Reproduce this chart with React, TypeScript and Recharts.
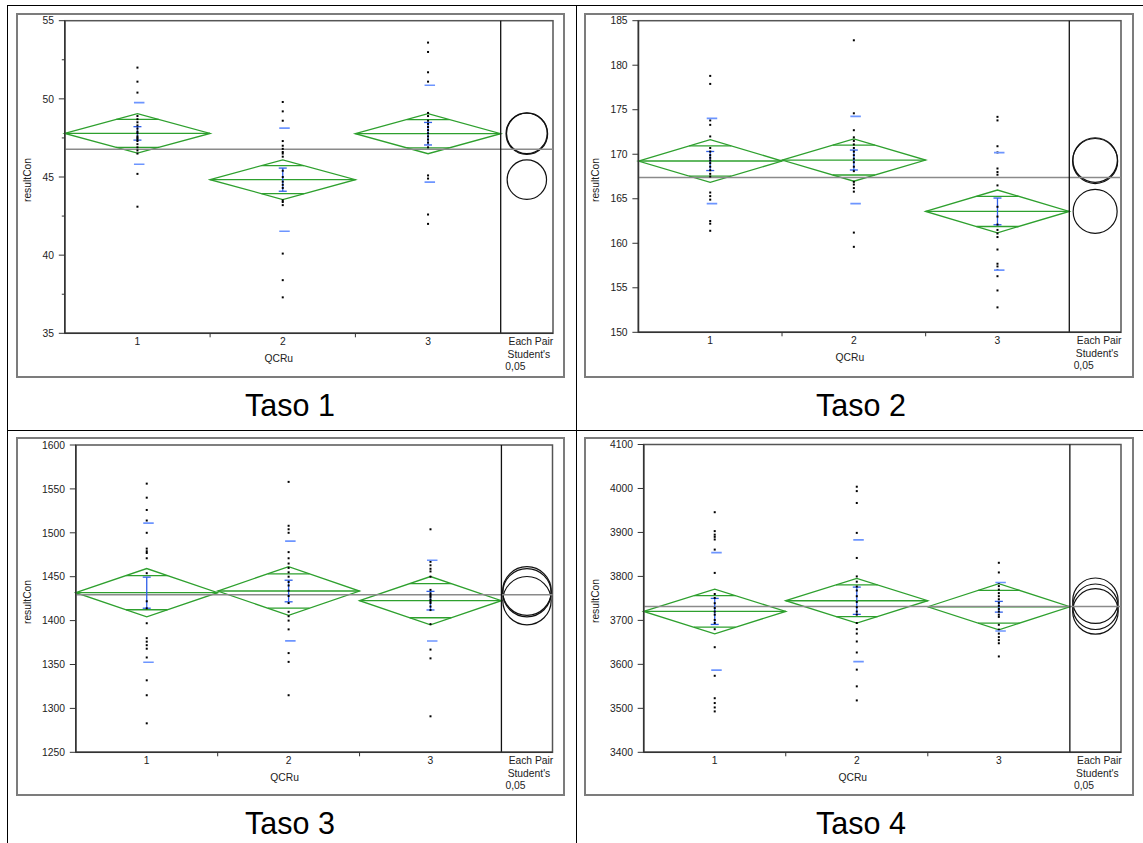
import React from 'react';
import { ComposedChart, Scatter, XAxis, YAxis, ReferenceLine, ReferenceArea, ErrorBar } from 'recharts';

// ---------- shared labels ----------
const groups = [1, 2, 3];
const xTickLabels = ['1', '2', '3'];
const xAxisTitle = 'QCRu';
const yAxisTitle = 'resultCon';
const pairLabels = ['Each Pair', "Student's", '0,05'];
const titles = ['Taso 1', 'Taso 2', 'Taso 3', 'Taso 4'];

// ---------- Taso 1 ----------
const taso1G1 = [52.0, 51.1, 50.4, 48.9, 48.7, 48.5, 48.3, 48.1, 47.9, 47.8, 47.6, 47.5, 47.4, 47.3, 47.1, 46.9, 46.7, 46.5, 45.2, 43.1];
const taso1G2 = [49.8, 49.2, 48.6, 47.3, 47.0, 46.8, 46.6, 46.5, 46.3, 45.4, 45.0, 44.7, 44.5, 44.3, 43.5, 43.4, 43.2, 40.1, 38.4, 37.3];
const taso1G3 = [53.6, 53.0, 51.7, 51.1, 49.1, 48.9, 48.6, 48.4, 48.2, 48.0, 47.8, 47.6, 47.4, 47.2, 46.9, 45.1, 44.9, 42.6, 42.0];
const taso1Means = [47.79, 44.83, 47.77];
const taso1Ci = [1.26, 1.27, 1.28];
const taso1Sd = [1.97, 3.3, 3.1];
const taso1Se = [0.43, 0.74, 0.72];
const taso1CircleR = [1.3, 1.26, 1.33];
const taso1Grand = 46.77;
const taso1YDomain = [35, 55];
const taso1YMajor = [35, 40, 45, 50, 55];
const taso1YMinor = [37.5, 42.5, 47.5, 52.5];

// ---------- Taso 2 ----------
const taso2G1 = [178.8, 177.9, 173.8, 173.3, 172.0, 170.7, 170.3, 169.9, 169.6, 169.3, 169.0, 168.6, 168.2, 167.8, 167.5, 165.7, 165.3, 164.9, 162.5, 162.2, 161.4];
const taso2G2 = [182.8, 174.6, 172.7, 171.9, 171.5, 171.1, 170.7, 170.3, 169.9, 169.5, 169.1, 168.6, 168.1, 166.9, 166.6, 166.2, 165.8, 161.2, 159.6];
const taso2G3 = [174.2, 173.8, 170.9, 170.2, 168.4, 168.0, 167.7, 166.5, 164.1, 163.0, 162.1, 161.5, 161.1, 160.7, 159.3, 157.7, 157.4, 157.0, 156.3, 154.7, 152.8];
const taso2Means = [169.24, 169.35, 163.58];
const taso2Ci = [2.4, 2.38, 2.4];
const taso2Sd = [4.79, 4.9, 6.6];
const taso2Se = [1.07, 1.12, 1.5];
const taso2CircleR = [2.53, 2.5, 2.47];
const taso2Grand = 167.4;
const taso2YDomain = [150, 185];
const taso2YMajor = [150, 155, 160, 165, 170, 175, 180, 185];
const taso2YMinor: number[] = [];

// ---------- Taso 3 ----------
const taso3G1 = [1556, 1540, 1526, 1514, 1500, 1482, 1479, 1477, 1471, 1454, 1422, 1414, 1397, 1380, 1376, 1372, 1368, 1358, 1332, 1315, 1283];
const taso3G2 = [1558, 1508, 1504, 1500, 1478, 1471, 1465, 1460, 1455, 1450, 1444, 1440, 1434, 1428, 1420, 1410, 1405, 1400, 1390, 1363, 1353, 1315];
const taso3G3 = [1504, 1467, 1463, 1459, 1456, 1450, 1435, 1431, 1429, 1427, 1424, 1422, 1420, 1416, 1412, 1396, 1367, 1357, 1291];
const taso3Means = [1431.8, 1433.7, 1422.7];
const taso3Ci = [27.5, 27.7, 27.5];
const taso3Sd = [79.2, 56.8, 46];
const taso3Se = [17.7, 12.3, 10.6];
const taso3CircleR = [27.5, 27.7, 27.5];
const taso3Grand = 1429.5;
const taso3YDomain = [1250, 1600];
const taso3YMajor = [1250, 1300, 1350, 1400, 1450, 1500, 1550, 1600];
const taso3YMinor: number[] = [];

// ---------- Taso 4 ----------
const taso4G1 = [3946, 3903, 3895, 3890, 3884, 3861, 3808, 3760, 3751, 3739, 3728, 3720, 3713, 3701, 3694, 3680, 3639, 3574, 3523, 3512, 3502, 3493];
const taso4G2 = [4004, 3994, 3967, 3899, 3842, 3800, 3788, 3777, 3768, 3755, 3742, 3730, 3720, 3713, 3694, 3680, 3670, 3652, 3627, 3588, 3550, 3518];
const taso4G3 = [3831, 3809, 3785, 3778, 3770, 3762, 3755, 3748, 3740, 3733, 3726, 3720, 3713, 3708, 3690, 3679, 3670, 3662, 3655, 3648, 3618];
const taso4Means = [3720.4, 3744.7, 3731];
const taso4Ci = [50.8, 50.9, 52.4];
const taso4Sd = [133.6, 138.5, 55];
const taso4Se = [29.6, 31, 12.2];
const taso4CircleR = [51.7, 51.7, 51.7];
const taso4Grand = 3731.7;
const taso4YDomain = [3400, 4100];
const taso4YMajor = [3400, 3500, 3600, 3700, 3800, 3900, 4000, 4100];
const taso4YMinor: number[] = [];

const X_DOMAIN = [0.5, 3.86];
const PAIR_X = 3.68;
const DIVIDER_X = 3.5;

const panels = [
  { groups: [taso1G1, taso1G2, taso1G3], means: taso1Means, ci: taso1Ci, sd: taso1Sd, se: taso1Se, circleR: taso1CircleR, grand: taso1Grand, yDomain: taso1YDomain, yMajor: taso1YMajor, yMinor: taso1YMinor },
  { groups: [taso2G1, taso2G2, taso2G3], means: taso2Means, ci: taso2Ci, sd: taso2Sd, se: taso2Se, circleR: taso2CircleR, grand: taso2Grand, yDomain: taso2YDomain, yMajor: taso2YMajor, yMinor: taso2YMinor },
  { groups: [taso3G1, taso3G2, taso3G3], means: taso3Means, ci: taso3Ci, sd: taso3Sd, se: taso3Se, circleR: taso3CircleR, grand: taso3Grand, yDomain: taso3YDomain, yMajor: taso3YMajor, yMinor: taso3YMinor },
  { groups: [taso4G1, taso4G2, taso4G3], means: taso4Means, ci: taso4Ci, sd: taso4Sd, se: taso4Se, circleR: taso4CircleR, grand: taso4Grand, yDomain: taso4YDomain, yMajor: taso4YMajor, yMinor: taso4YMinor },
];

// layout (pixels, page coordinates)
const layouts = [
  { frame: { l: 17, t: 14, r: 566, b: 379 }, plot: { l: 64.8, t: 20.7, r: 553, b: 333.3 }, title: { x: 290, y: 416 } },
  { frame: { l: 585, t: 14, r: 1135, b: 379 }, plot: { l: 638.4, t: 20.7, r: 1121, b: 332.3 }, title: { x: 861, y: 416 } },
  { frame: { l: 17, t: 438, r: 566, b: 797 }, plot: { l: 75.8, t: 445, r: 552.5, b: 752.3 }, title: { x: 290, y: 834 } },
  { frame: { l: 585, t: 438, r: 1135, b: 797 }, plot: { l: 643.7, t: 444.5, r: 1121, b: 752.3 }, title: { x: 861, y: 834 } },
];

const FONT = '"Liberation Sans", Arial, sans-serif';
const GREEN = '#2ea02e';
const BLUE_SD = '#6d95ff';
const BLUE_SE = '#2f5fe8';
const TICK_FS = 10.3;

const Dot = (props: any) => {
  const { cx, cy } = props;
  if (cx == null || cy == null) return <g />;
  return <rect x={cx - 1} y={cy - 1} width={2} height={2} fill="#000" />;
};

const SdDash = (props: any) => {
  const { cx, cy } = props;
  if (cx == null || cy == null) return <g />;
  return <line x1={cx - 3.5} x2={cx + 7} y1={cy} y2={cy} stroke={BLUE_SD} strokeWidth={1.6} />;
};

const Empty = () => <g />;

const DiamondShape = (props: any) => {
  const { x, y, width, height } = props;
  if (x == null) return <g />;
  const cx = x + width / 2;
  const cy = y + height / 2;
  const hh = height / 2;
  const hw = width / 2;
  const k = 1 / Math.SQRT2;
  const ow = hw * (1 - k);
  const pts = `${x},${cy} ${cx},${y} ${x + width},${cy} ${cx},${y + height}`;
  return (
    <g>
      <polygon points={pts} fill="none" stroke={GREEN} strokeWidth={1.3} />
      <line x1={x} x2={x + width} y1={cy} y2={cy} stroke={GREEN} strokeWidth={1.3} />
      <line x1={cx - ow} x2={cx + ow} y1={cy - hh * k} y2={cy - hh * k} stroke={GREEN} strokeWidth={1.3} />
      <line x1={cx - ow} x2={cx + ow} y1={cy + hh * k} y2={cy + hh * k} stroke={GREEN} strokeWidth={1.3} />
    </g>
  );
};

const CircleShape = (props: any) => {
  const { x, y, width, height } = props;
  if (x == null) return <g />;
  return <circle cx={x + width / 2} cy={y + height / 2} r={height / 2} fill="none" stroke="#111" strokeWidth={1.2} />;
};

const FrameShape = (props: any) => {
  const { x, y, width, height } = props;
  if (x == null) return <g />;
  return <rect x={x} y={y} width={width} height={height} fill="none" stroke="#555" strokeWidth={1.5} />;
};

const renderXTick = (props: any) => {
  const { x, y, payload } = props;
  const v = payload.value;
  if (v === 1.5 || v === 2.5) {
    return <line x1={x} x2={x} y1={y} y2={y + 4} stroke="#333" strokeWidth={1} />;
  }
  if (v === PAIR_X) {
    return (
      <g fontFamily={FONT} fontSize={TICK_FS} fill="#222">
        <text x={x + 4} y={y + 12} textAnchor="middle">{pairLabels[0]}</text>
        <text x={x + 2} y={y + 24.7} textAnchor="middle">{pairLabels[1]}</text>
        <text x={x - 21.5} y={y + 37} textAnchor="start">{pairLabels[2]}</text>
      </g>
    );
  }
  const idx = groups.indexOf(v);
  if (idx < 0) return <g />;
  return (
    <g fontFamily={FONT} fontSize={TICK_FS} fill="#222">
      <text x={x} y={y + 11.4} textAnchor="middle">{xTickLabels[idx]}</text>
      {v === 2 && <text x={x - 4} y={y + 28.4} textAnchor="middle">{xAxisTitle}</text>}
    </g>
  );
};

const makeYTick = (majors: number[]) => (props: any) => {
  const { x, y, payload } = props;
  const v = payload.value;
  const major = majors.includes(v);
  return (
    <g>
      <line x1={x - (major ? 6 : 3)} x2={x} y1={y} y2={y} stroke="#333" strokeWidth={1} />
      {major && (
        <text x={x - 10.8} y={y + 3.7} textAnchor="end" fontFamily={FONT} fontSize={TICK_FS} fill="#222">
          {v}
        </text>
      )}
    </g>
  );
};

function Panel({ index }: { index: number }) {
  const p = panels[index];
  const { frame, plot } = layouts[index];
  const W = frame.r - frame.l;
  const H = frame.b - frame.t;
  const yAxisW = 40;
  const xAxisH = 30;
  const margin = {
    left: plot.l - frame.l - yAxisW,
    top: plot.t - frame.t,
    right: frame.r - plot.r,
    bottom: frame.b - plot.b - xAxisH,
  };
  const points = p.groups.flatMap((vals, i) => vals.map((v) => ({ x: groups[i], y: v })));
  const seData = groups.map((g, i) => ({ x: g, y: p.means[i], se: p.se[i] }));
  const sdData = groups.flatMap((g, i) => [
    { x: g, y: p.means[i] + p.sd[i] },
    { x: g, y: p.means[i] - p.sd[i] },
  ]);
  const yTicks = [...p.yMajor, ...p.yMinor].sort((a, b) => a - b);
  const plotH = plot.b - plot.t;
  const labelX = 10.7;
  const labelY = margin.top + plotH / 2 + 3;

  return (
    <div style={{ position: 'absolute', left: frame.l, top: frame.t, width: W, height: H }}>
      <ComposedChart width={W} height={H} margin={margin}>
        <XAxis
          type="number"
          dataKey="x"
          domain={X_DOMAIN}
          ticks={[1, 1.5, 2, 2.5, 3, PAIR_X]}
          interval={0}
          allowDataOverflow
          tickSize={0}
          tickMargin={0}
          tickLine={false}
          tick={renderXTick}
          height={xAxisH}
          axisLine={{ stroke: '#333', strokeWidth: 1.5 }}
        />
        <YAxis
          type="number"
          dataKey="y"
          domain={p.yDomain}
          ticks={yTicks}
          interval={0}
          allowDataOverflow
          width={yAxisW}
          tickSize={0}
          tickMargin={0}
          tickLine={false}
          tick={makeYTick(p.yMajor)}
          axisLine={{ stroke: '#333', strokeWidth: 1.5 }}
        />
        <ReferenceArea x1={X_DOMAIN[0]} x2={X_DOMAIN[1]} y1={p.yDomain[0]} y2={p.yDomain[1]} shape={FrameShape} ifOverflow="visible" />
        <ReferenceLine y={p.grand} stroke="#8a8a8a" strokeWidth={1.5} />
        {groups.map((g, i) => (
          <ReferenceArea
            key={'d' + i}
            x1={g - 0.5}
            x2={g + 0.5}
            y1={p.means[i] - p.ci[i]}
            y2={p.means[i] + p.ci[i]}
            shape={DiamondShape}
            ifOverflow="visible"
          />
        ))}
        <ReferenceLine x={DIVIDER_X} stroke="#111" strokeWidth={1.3} />
        {groups.map((g, i) => (
          <ReferenceArea
            key={'c' + i}
            x1={PAIR_X - 0.12}
            x2={PAIR_X + 0.12}
            y1={p.means[i] - p.circleR[i]}
            y2={p.means[i] + p.circleR[i]}
            shape={CircleShape}
            ifOverflow="visible"
          />
        ))}
        <Scatter data={points} shape={Dot} isAnimationActive={false} />
        <Scatter data={sdData} shape={SdDash} isAnimationActive={false} />
        <Scatter data={seData} shape={Empty} isAnimationActive={false}>
          <ErrorBar dataKey="se" direction="y" width={4} stroke={BLUE_SE} strokeWidth={1.3} isAnimationActive={false} />
        </Scatter>
      </ComposedChart>
      <div
        style={{
          position: 'absolute',
          left: labelX,
          top: labelY,
          transform: 'translate(-50%, -50%) rotate(-90deg)',
          fontFamily: FONT,
          fontSize: TICK_FS,
          color: '#222',
          whiteSpace: 'nowrap',
          lineHeight: 1,
        }}
      >
        {yAxisTitle}
      </div>
      <div
        style={{
          position: 'absolute',
          left: -1,
          top: -1,
          width: W,
          height: H,
          border: '2px solid #7c7c7c',
          boxSizing: 'border-box',
          pointerEvents: 'none',
        }}
      />
    </div>
  );
}

export default function App() {
  return (
    <div style={{ position: 'absolute', left: 0, top: 0, width: 1143, height: 843, background: '#fff', overflow: 'hidden' }}>
      {/* table lines */}
      <div style={{ position: 'absolute', left: 7, top: 5, width: 1136, height: 1, background: '#000' }} />
      <div style={{ position: 'absolute', left: 7, top: 430, width: 1136, height: 1, background: '#000' }} />
      <div style={{ position: 'absolute', left: 7, top: 5, width: 1, height: 838, background: '#000' }} />
      <div style={{ position: 'absolute', left: 576, top: 5, width: 1, height: 838, background: '#000' }} />
      {panels.map((_, i) => (
        <Panel key={i} index={i} />
      ))}
      {layouts.map((l, i) => (
        <div
          key={'t' + i}
          style={{
            position: 'absolute',
            left: l.title.x - 100,
            width: 200,
            top: l.title.y - 29,
            textAlign: 'center',
            fontFamily: FONT,
            fontSize: 30.5,
            lineHeight: '36px',
            color: '#000',
          }}
        >
          {titles[i]}
        </div>
      ))}
    </div>
  );
}
